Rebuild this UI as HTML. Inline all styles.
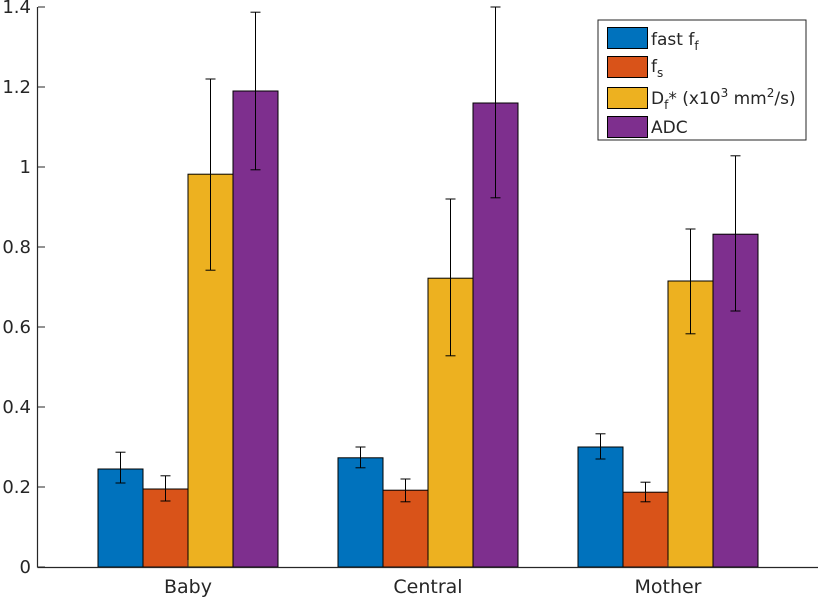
<!DOCTYPE html>
<html><head><meta charset="utf-8"><style>
body{margin:0;background:#fff;}
svg{display:block;font-family:"DejaVu Sans","Liberation Sans",sans-serif;}
</style></head><body>
<svg id="chart" width="820" height="598" viewBox="0 0 820 598" xmlns="http://www.w3.org/2000/svg">
<g id="bars"></g>
<g id="errs"></g>
<g id="axes"></g>
<g id="legend">
<rect x="598" y="20" width="208" height="120" fill="#fff" stroke="#262626" stroke-width="1"/>
<rect x="607.5" y="27.5" width="40" height="21" fill="#0072BD" stroke="#000"/>
<text x="651" y="45" font-size="17" fill="#262626">fast f<tspan font-size="12" dy="5">f</tspan></text>
<rect x="607.5" y="56.5" width="40" height="21" fill="#D95319" stroke="#000"/>
<text x="651" y="72" font-size="17" fill="#262626">f<tspan font-size="12" dy="5">s</tspan></text>
<rect x="607.5" y="87.5" width="40" height="21" fill="#EDB120" stroke="#000"/>
<text x="651" y="104" font-size="17" fill="#262626">D<tspan font-size="12" dy="5">f</tspan><tspan dy="-5">* (x10</tspan><tspan font-size="12" dy="-7">3</tspan><tspan dy="7"> mm</tspan><tspan font-size="12" dy="-7">2</tspan><tspan dy="7">/s)</tspan></text>
<rect x="607.5" y="116.5" width="40" height="21" fill="#7E2F8E" stroke="#000"/>
<text x="651" y="133" font-size="17" fill="#262626">ADC</text>
</g>
</svg>
<script>
const categories=["Baby","Central","Mother"];
const seriesNames=["fast ff","fs","Df*","ADC"];
const fastFf=[0.245,0.273,0.300];
const fS=[0.195,0.192,0.187];
const dF=[0.982,0.722,0.715];
const adc=[1.19,1.16,0.832];
const fastFfLo=[0.210,0.248,0.270], fastFfHi=[0.287,0.300,0.333];
const fSLo=[0.165,0.163,0.163], fSHi=[0.228,0.220,0.212];
const dFLo=[0.742,0.528,0.583], dFHi=[1.220,0.920,0.845];
const adcLo=[0.993,0.923,0.640], adcHi=[1.387,1.400,1.028];
const yTicks=[0,0.2,0.4,0.6,0.8,1,1.2,1.4];
const yTickLabels=["0","0.2","0.4","0.6","0.8","1","1.2","1.4"];

const colors=["#0072BD","#D95319","#EDB120","#7E2F8E"];
const NS="http://www.w3.org/2000/svg";
const y=v=>567-v*400;
const xc=i=>188+240*i;
const bw=45;
function mk(tag,attrs,parent){const e=document.createElementNS(NS,tag);for(const k in attrs)e.setAttribute(k,attrs[k]);parent.appendChild(e);return e;}
const bars=document.getElementById('bars'),errs=document.getElementById('errs'),axes=document.getElementById('axes');
const vals=[fastFf,fS,dF,adc],los=[fastFfLo,fSLo,dFLo,adcLo],his=[fastFfHi,fSHi,dFHi,adcHi];
const keys=["fast-ff","fs","df","adc"];
categories.forEach((c,i)=>{
  vals.forEach((s,j)=>{
    const x0=xc(i)-2*bw+j*bw;
    const r=mk('rect',{x:x0,y:y(s[i]),width:bw,height:y(0)-y(s[i]),fill:colors[j],stroke:'#000','stroke-width':1},bars);
    
    
    const cx=x0+bw/2;
    const g=mk('g',{stroke:'#000','stroke-width':1},errs);
    
    
    mk('line',{x1:cx,x2:cx,y1:y(los[j][i]),y2:y(his[j][i])},g);
    mk('line',{x1:cx-5,x2:cx+5,y1:y(los[j][i]),y2:y(los[j][i])},g);
    mk('line',{x1:cx-5,x2:cx+5,y1:y(his[j][i]),y2:y(his[j][i])},g);
  });
  const t=mk('text',{x:xc(i),y:593,'text-anchor':'middle','font-size':19,fill:'#262626'},axes);
  t.textContent=c;
  
  
  mk('line',{x1:xc(i),x2:xc(i),y1:567,y2:560,stroke:'#262626'},axes);
});
yTicks.forEach((v,k)=>{
  mk('line',{x1:38,x2:45,y1:y(v),y2:y(v),stroke:'#262626'},axes);
  const t=mk('text',{x:31,y:y(v)+6,'text-anchor':'end','font-size':18,fill:'#262626'},axes);
  t.textContent=yTickLabels[k];
  
  
});
const xa=mk('line',{x1:37.5,x2:818,y1:567.5,y2:567.5,stroke:'#262626','stroke-width':1.2},axes);


const ya=mk('line',{x1:37.5,x2:37.5,y1:7,y2:567.5,stroke:'#262626','stroke-width':1.2},axes);


</script>
</body></html>
